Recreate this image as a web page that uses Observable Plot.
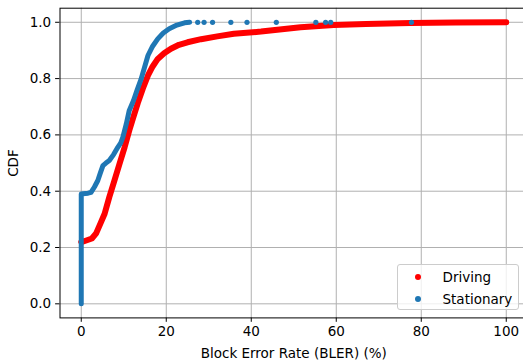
<!DOCTYPE html>
<html>
<head>
<meta charset="utf-8">
<script src="https://cdn.jsdelivr.net/npm/d3@7"></script>
<script src="https://cdn.jsdelivr.net/npm/@observablehq/plot@0.6"></script>
<style>
  body { margin: 0; background: #fff; }
  #wrap { position: relative; width: 523px; height: 362px; overflow: hidden; font-family: "DejaVu Sans", sans-serif; }
  #legend { position: absolute; left: 397px; top: 264px; width: 120px; height: 44px;
    border: 1px solid #cccccc; border-radius: 3px; background: rgba(255,255,255,0.8);
    font-size: 13.5px; color: #000; }
  .item { position: absolute; left: 0; height: 16px; line-height: 16px; }
  .dot { position: absolute; width: 6px; height: 6px; border-radius: 50%; left: 16.5px; top: 5px; }
  .lab { position: absolute; left: 44.5px; top: 0; white-space: nowrap; }
</style>
</head>
<body>
<div id="wrap"></div>
<script>
// Driving (red) CDF curve
const drivingX = [0, 1, 2.5, 3.5, 4.5, 5.5, 6.6, 7.8, 9.0, 10.2, 11.3, 12.3, 13.3, 14.5, 15.7, 16.8, 18, 19.5, 21.1, 23, 25, 28.2, 32, 35.9, 42.3, 51.6, 59.4, 67, 77.5, 88, 100];
const drivingY = [0.219, 0.224, 0.232, 0.25, 0.285, 0.32, 0.379, 0.438, 0.497, 0.556, 0.616, 0.665, 0.713, 0.765, 0.811, 0.843, 0.87, 0.89, 0.906, 0.92, 0.929, 0.94, 0.95, 0.959, 0.967, 0.982, 0.99, 0.994, 0.997, 0.999, 1.0];
// Stationary (blue) CDF curve (dense part)
const stationaryX = [0, 0, 0.4, 1.6, 2.3, 3.1, 3.9, 4.5, 5.1, 5.8, 6.6, 7.6, 8.6, 9.3, 9.8, 10.6, 11.3, 12.3, 13.2, 14.1, 15.7, 16.8, 18, 19.3, 20.7, 22.5, 24.3, 25.5];
const stationaryY = [0, 0.39, 0.391, 0.393, 0.396, 0.415, 0.438, 0.465, 0.491, 0.5, 0.509, 0.53, 0.556, 0.572, 0.592, 0.639, 0.687, 0.722, 0.762, 0.799, 0.882, 0.915, 0.941, 0.962, 0.977, 0.99, 0.998, 1.0];
// Stationary sparse tail points (all at CDF ~1.0)
const stationaryTailX = [27.4, 28.9, 30.9, 35.2, 39, 45.9, 55.2, 57.5, 58.7, 77.7];
const stationaryTailY = [1, 1, 1, 1, 1, 1, 1, 1, 1, 1];

const xTicks = [0, 20, 40, 60, 80, 100];
const yTicks = [0, 0.2, 0.4, 0.6, 0.8, 1.0];
const seriesNames = ["Driving", "Stationary"];
const seriesColors = ["#ff0000", "#1f77b4"];

const driving = drivingX.map((x, i) => ({x, y: drivingY[i]}));
const stationary = stationaryX.map((x, i) => ({x, y: stationaryY[i]}));
const tail = stationaryTailX.map((x, i) => ({x, y: stationaryTailY[i]}));

const chart = Plot.plot({
  width: 523,
  height: 362,
  marginLeft: 59.5,
  marginRight: -4,
  marginTop: 7.7,
  marginBottom: 44.6,
  style: { fontFamily: "DejaVu Sans, sans-serif", fontSize: "13.5px", color: "#000", background: "#fff" },
  x: { domain: [-5, 105], ticks: xTicks, tickSize: 4.4, tickPadding: 4.4,
       label: "Block Error Rate (BLER) (%)", labelAnchor: "center", labelArrow: "none", labelOffset: 40 },
  y: { domain: [-0.05, 1.05], ticks: yTicks, tickSize: 4.4, tickPadding: 4.4, tickFormat: d3.format(".1f"),
       label: "CDF", labelAnchor: "center", labelArrow: "none", labelOffset: 52 },
  marks: [
    Plot.gridX(xTicks, { stroke: "#b0b0b0", strokeOpacity: 1, strokeWidth: 1 }),
    Plot.gridY(yTicks, { stroke: "#b0b0b0", strokeOpacity: 1, strokeWidth: 1 }),
    Plot.line(driving, { x: "x", y: "y", stroke: seriesColors[0], strokeWidth: 6, strokeLinecap: "round", strokeLinejoin: "round" }),
    Plot.line(stationary, { x: "x", y: "y", stroke: seriesColors[1], strokeWidth: 5, strokeLinecap: "round", strokeLinejoin: "round" }),
    Plot.dot(tail, { x: "x", y: "y", r: 2.6, fill: seriesColors[1], stroke: "none" }),
    Plot.frame({ stroke: "#000", strokeWidth: 1 })
  ]
});

const wrap = document.getElementById("wrap");
wrap.appendChild(chart);

const legend = document.createElement("div");
legend.id = "legend";
seriesNames.forEach((name, i) => {
  const item = document.createElement("div");
  item.className = "item";
  item.style.top = (3.7 + i * 22) + "px";
  item.style.width = "100%";
  const dot = document.createElement("span");
  dot.className = "dot";
  dot.style.background = seriesColors[i];
  const lab = document.createElement("span");
  lab.className = "lab";
  lab.textContent = name;
  item.appendChild(dot);
  item.appendChild(lab);
  legend.appendChild(item);
});
wrap.appendChild(legend);
</script>
</body>
</html>
